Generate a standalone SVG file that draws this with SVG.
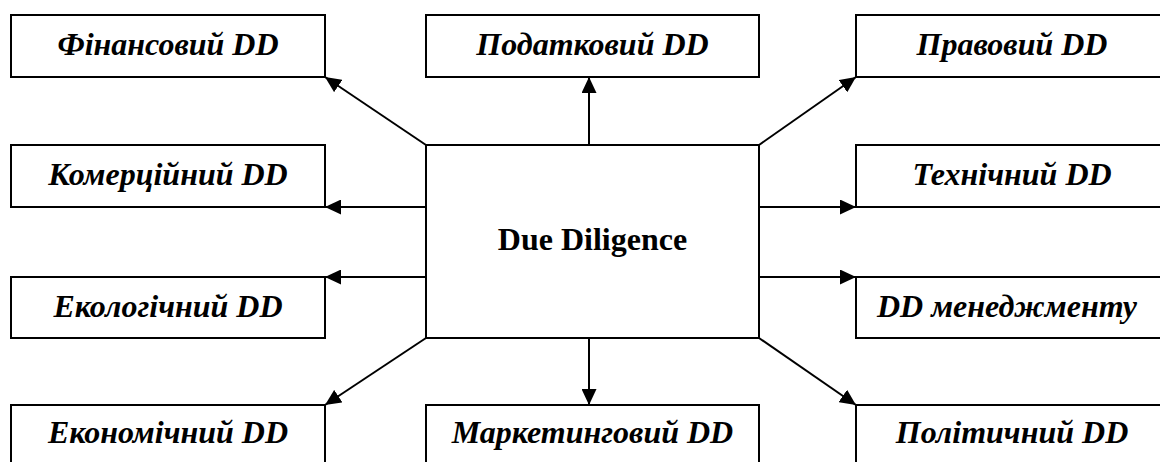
<svg xmlns="http://www.w3.org/2000/svg" width="1160" height="462" viewBox="0 0 1160 462">
<style>
.box{fill:#fff;stroke:#000;stroke-width:2}
.lbl{font-family:'Liberation Serif','Times New Roman',serif;font-weight:bold;font-style:italic;font-size:32px;fill:#000;text-anchor:middle}
.ctr{font-family:'Liberation Serif','Times New Roman',serif;font-weight:bold;font-size:32px;fill:#000;text-anchor:middle}
.con{stroke:#000;stroke-width:2;fill:none;marker-end:url(#ah)}
</style>
<defs>
<marker id="ah" markerUnits="userSpaceOnUse" markerWidth="16" markerHeight="15" refX="16" refY="7.5" orient="auto">
<path d="M0,0 L16,7.5 L0,15 z" fill="#000"/>
</marker>
</defs>
<rect width="1160" height="462" fill="#fff"/>
<g id="connectors">
<line class="con" x1="426" y1="145" x2="325" y2="77"/>
<line class="con" x1="589" y1="145" x2="589" y2="77"/>
<line class="con" x1="759" y1="145" x2="856" y2="77"/>
<line class="con" x1="426" y1="207" x2="325" y2="207"/>
<line class="con" x1="426" y1="277" x2="325" y2="277"/>
<line class="con" x1="759" y1="207" x2="856" y2="207"/>
<line class="con" x1="759" y1="277" x2="856" y2="277"/>
<line class="con" x1="426" y1="338" x2="325" y2="405"/>
<line class="con" x1="589" y1="338" x2="589" y2="405"/>
<line class="con" x1="759" y1="338" x2="856" y2="405"/>
</g>
<g id="center"><rect class="box" x="426" y="145" width="333" height="193"/><text class="ctr" x="592.5" y="250">Due Diligence</text></g>
<g id="n-fin"><rect class="box" x="11" y="15" width="314" height="62"/><text class="lbl" x="168" y="55">Фінансовий DD</text></g>
<g id="n-tax"><rect class="box" x="426" y="15" width="333" height="62"/><text class="lbl" x="592.5" y="55">Податковий DD</text></g>
<g id="n-law"><rect class="box" x="856" y="15" width="314" height="62"/><text class="lbl" x="1012" y="55">Правовий DD</text></g>
<g id="n-com"><rect class="box" x="11" y="145" width="314" height="62"/><text class="lbl" x="168" y="185">Комерційний DD</text></g>
<g id="n-tech"><rect class="box" x="856" y="145" width="314" height="62"/><text class="lbl" x="1012" y="185">Технічний DD</text></g>
<g id="n-eco"><rect class="box" x="11" y="277" width="314" height="61"/><text class="lbl" x="168" y="317">Екологічний DD</text></g>
<g id="n-mgmt"><rect class="box" x="856" y="277" width="314" height="61"/><text class="lbl" x="1007" y="317">DD менеджменту</text></g>
<g id="n-econ"><rect class="box" x="11" y="405" width="314" height="70"/><text class="lbl" x="168" y="443">Економічний DD</text></g>
<g id="n-mkt"><rect class="box" x="426" y="405" width="333" height="70"/><text class="lbl" x="592.5" y="443">Маркетинговий DD</text></g>
<g id="n-pol"><rect class="box" x="856" y="405" width="314" height="70"/><text class="lbl" x="1012" y="443">Політичний DD</text></g>
</svg>
